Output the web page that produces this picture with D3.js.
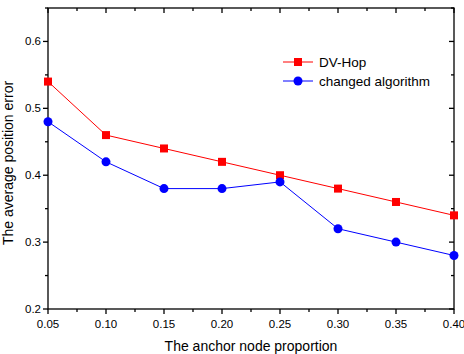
<!DOCTYPE html>
<html>
<head>
<meta charset="utf-8">
<script src="https://cdn.jsdelivr.net/npm/d3@7"></script>
<style>
  body { margin: 0; background: #fff; }
  svg { font-family: "Liberation Sans", Arial, sans-serif; }
</style>
</head>
<body>
<svg width="464" height="354"></svg>
<script>
const proportions = [0.05, 0.10, 0.15, 0.20, 0.25, 0.30, 0.35, 0.40]
const dvHop = [0.54, 0.46, 0.44, 0.42, 0.40, 0.38, 0.36, 0.34]
const changed = [0.48, 0.42, 0.38, 0.38, 0.39, 0.32, 0.30, 0.28]
const xTicks = [0.05, 0.10, 0.15, 0.20, 0.25, 0.30, 0.35, 0.40]
const yTicks = [0.2, 0.3, 0.4, 0.5, 0.6]

const svg = d3.select('svg')
const mLeft = 48, mRight = 454, mTop = 8, mBottom = 309

const x = d3.scaleLinear().domain([0.05, 0.40]).range([mLeft, mRight])
const y = d3.scaleLinear().domain([0.2, 0.65]).range([mBottom, mTop])

const xMinor = [0.075, 0.125, 0.175, 0.225, 0.275, 0.325, 0.375]
const yMinor = [0.25, 0.35, 0.45, 0.55, 0.65]

// axes
const ax = svg.append('g').attr('stroke', '#000').attr('stroke-width', 1.3)
ax.append('rect').attr('x', mLeft).attr('y', mTop).attr('width', mRight - mLeft).attr('height', mBottom - mTop)
  .attr('fill', 'none')

// bottom + top ticks
xTicks.forEach(t => {
  ax.append('line').attr('x1', x(t)).attr('x2', x(t)).attr('y1', mBottom).attr('y2', mBottom + 5)
  ax.append('line').attr('x1', x(t)).attr('x2', x(t)).attr('y1', mTop).attr('y2', mTop + 5)
})
xMinor.forEach(t => {
  ax.append('line').attr('x1', x(t)).attr('x2', x(t)).attr('y1', mBottom).attr('y2', mBottom + 3)
  ax.append('line').attr('x1', x(t)).attr('x2', x(t)).attr('y1', mTop).attr('y2', mTop + 3)
})
// left + right ticks
yTicks.forEach(t => {
  ax.append('line').attr('x1', mLeft - 5).attr('x2', mLeft).attr('y1', y(t)).attr('y2', y(t))
  ax.append('line').attr('x1', mRight - 5).attr('x2', mRight).attr('y1', y(t)).attr('y2', y(t))
})
yMinor.forEach(t => {
  ax.append('line').attr('x1', mLeft - 3).attr('x2', mLeft).attr('y1', y(t)).attr('y2', y(t))
  ax.append('line').attr('x1', mRight - 3).attr('x2', mRight).attr('y1', y(t)).attr('y2', y(t))
})

svg.append('g').selectAll('text').data(xTicks).join('text')
  .attr('x', d => x(d)).attr('y', mBottom + 19)
  .attr('text-anchor', 'middle').attr('font-size', 11.5)
  .text(d => d.toFixed(2))

svg.append('g').selectAll('text').data(yTicks).join('text')
  .attr('x', mLeft - 7).attr('y', d => y(d) + 4)
  .attr('text-anchor', 'end').attr('font-size', 11.5)
  .text(d => d.toFixed(1))

svg.append('text').attr('x', 251).attr('y', 351).attr('text-anchor', 'middle')
  .attr('font-size', 14).text('The anchor node proportion')
svg.append('text').attr('transform', 'translate(12.5,163) rotate(-90)').attr('text-anchor', 'middle')
  .attr('font-size', 14).text('The average position error')

// series
const line = d3.line().x((d, i) => x(proportions[i])).y(d => y(d))
svg.append('path').datum(dvHop).attr('d', line).attr('fill', 'none').attr('stroke', '#f00').attr('stroke-width', 1)
svg.append('path').datum(changed).attr('d', line).attr('fill', 'none').attr('stroke', '#00f').attr('stroke-width', 1)

svg.append('g').selectAll('rect').data(dvHop).join('rect')
  .attr('x', (d, i) => x(proportions[i]) - 4).attr('y', d => y(d) - 4)
  .attr('width', 8).attr('height', 8).attr('fill', '#f00')
svg.append('g').selectAll('circle').data(changed).join('circle')
  .attr('cx', (d, i) => x(proportions[i])).attr('cy', d => y(d))
  .attr('r', 4.5).attr('fill', '#00f')

// legend
const lg = svg.append('g')
lg.append('line').attr('x1', 283).attr('x2', 313).attr('y1', 62).attr('y2', 62).attr('stroke', '#f00')
lg.append('rect').attr('x', 294).attr('y', 58).attr('width', 8).attr('height', 8).attr('fill', '#f00')
lg.append('text').attr('x', 319).attr('y', 67).attr('font-size', 13.5).text('DV-Hop')
lg.append('line').attr('x1', 283).attr('x2', 313).attr('y1', 81).attr('y2', 81).attr('stroke', '#00f')
lg.append('circle').attr('cx', 298).attr('cy', 81).attr('r', 4.5).attr('fill', '#00f')
lg.append('text').attr('x', 319).attr('y', 86).attr('font-size', 13.5).text('changed algorithm')
</script>
</body>
</html>
